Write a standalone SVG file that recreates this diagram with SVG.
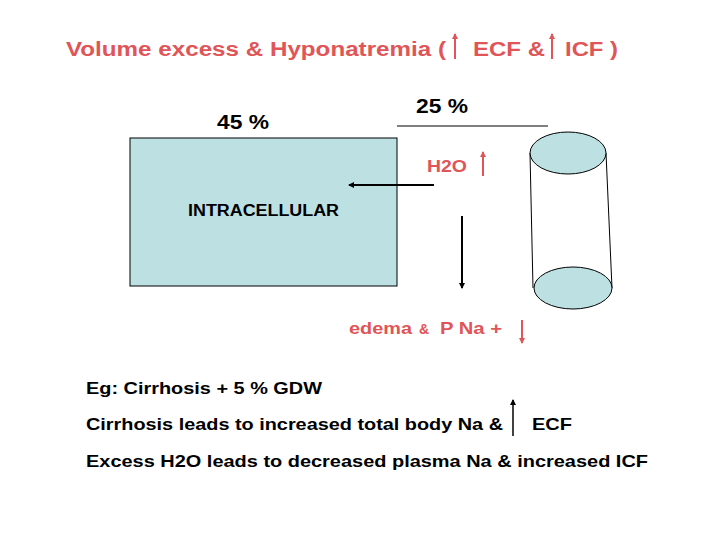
<svg xmlns="http://www.w3.org/2000/svg" width="720" height="540" viewBox="0 0 720 540">
<style>
.t{font-family:"Liberation Sans",Arial,sans-serif;font-weight:bold}
.r{fill:#e05557}
.k{fill:#000}
.ra{stroke:#e05557;stroke-width:2;fill:none}
</style>
<defs>
<marker id="ah" markerWidth="6" markerHeight="6" refX="5" refY="3" orient="auto" markerUnits="userSpaceOnUse"><path d="M0,0 L6,3 L0,6 z" fill="#000"/></marker>
<marker id="rh" markerWidth="6" markerHeight="6" refX="5" refY="3" orient="auto" markerUnits="userSpaceOnUse"><path d="M0,0 L6,3 L0,6 z" fill="#e05557"/></marker>
</defs>
<rect width="720" height="540" fill="#fff"/>
<g id="title" class="t r" font-size="20">
<text x="66" y="56" textLength="380" lengthAdjust="spacingAndGlyphs">Volume excess &amp; Hyponatremia (</text>
<text x="473" y="56" textLength="72" lengthAdjust="spacingAndGlyphs">ECF &amp;</text>
<text x="565" y="56" textLength="53" lengthAdjust="spacingAndGlyphs">ICF )</text>
<line class="ra" x1="455" y1="59" x2="455" y2="34" marker-end="url(#rh)"/>
<line class="ra" x1="552" y1="59" x2="552" y2="34" marker-end="url(#rh)"/>
</g>
<g id="icf">
<text class="t k" x="217" y="129" font-size="20" textLength="52" lengthAdjust="spacingAndGlyphs">45 %</text>
<rect x="130" y="138" width="267" height="148" fill="#bde0e3" stroke="#000" stroke-width="1"/>
<text class="t k" x="188" y="216" font-size="16" textLength="151" lengthAdjust="spacingAndGlyphs">INTRACELLULAR</text>
</g>
<g id="ecf">
<text class="t k" x="416" y="113" font-size="20" textLength="52" lengthAdjust="spacingAndGlyphs">25 %</text>
<line x1="397" y1="126" x2="548" y2="126" stroke="#000" stroke-width="1"/>
<path d="M530,153 L533,288 M606,153 L612,288" stroke="#000" fill="none"/>
<ellipse cx="568" cy="153" rx="38" ry="21" fill="#bde0e3" stroke="#000"/>
<ellipse cx="573" cy="288" rx="39" ry="21" fill="#bde0e3" stroke="#000"/>
</g>
<g id="h2o">
<text class="t r" x="427" y="172" font-size="17" textLength="40" lengthAdjust="spacingAndGlyphs">H2O</text>
<line class="ra" x1="483" y1="176" x2="483" y2="152" marker-end="url(#rh)"/>
</g>
<g id="edema" class="t r">
<text x="349" y="334" font-size="17" textLength="63" lengthAdjust="spacingAndGlyphs">edema</text>
<text x="419" y="334" font-size="14">&amp;</text>
<text x="440" y="334" font-size="17" textLength="62" lengthAdjust="spacingAndGlyphs">P Na +</text>
<line class="ra" x1="522" y1="320" x2="522" y2="343" marker-end="url(#rh)"/>
</g>
<g id="connectors">
<line x1="434" y1="185" x2="349" y2="185" stroke="#000" stroke-width="2" marker-end="url(#ah)"/>
<line x1="462" y1="216" x2="462" y2="288" stroke="#000" stroke-width="2" marker-end="url(#ah)"/>
</g>
<g id="notes" class="t k" font-size="17">
<text x="86" y="394" textLength="236" lengthAdjust="spacingAndGlyphs">Eg: Cirrhosis + 5 % GDW</text>
<text x="86" y="430" textLength="417" lengthAdjust="spacingAndGlyphs">Cirrhosis leads to increased total body Na &amp;</text>
<text x="532" y="430" textLength="40" lengthAdjust="spacingAndGlyphs">ECF</text>
<text x="86" y="467" textLength="562" lengthAdjust="spacingAndGlyphs">Excess H2O leads to decreased plasma Na &amp; increased ICF</text>
</g>
<line x1="513" y1="436" x2="513" y2="400" stroke="#000" stroke-width="1.5" marker-end="url(#ah)"/>
</svg>
